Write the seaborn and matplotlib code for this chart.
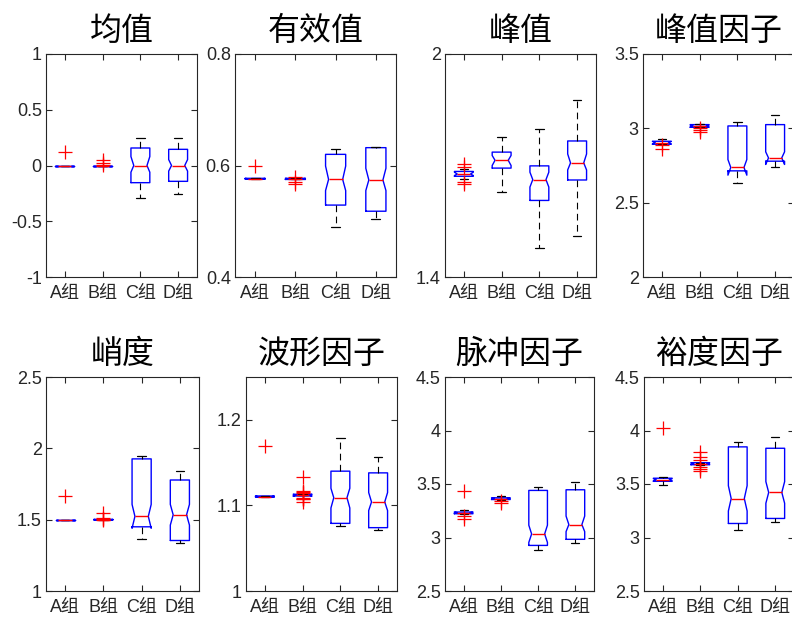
import matplotlib
matplotlib.use("Agg")
import matplotlib.pyplot as plt
import seaborn as sns

# ---- data -------------------------------------------------------------
groups = ["A组", "B组", "C组", "D组"]
titles = ["均值", "有效值", "峰值", "峰值因子", "峭度", "波形因子", "脉冲因子", "裕度因子"]

# box statistics per feature (rows) and group (columns)
whislo = [
    [0.0, 0.0, -0.287, -0.257],
    [0.576, 0.576, 0.489, 0.504],
    [1.664, 1.630, 1.478, 1.509],
    [2.893, 3.007, 2.629, 2.737],
    [1.495, 1.499, 1.361, 1.338],
    [1.110, 1.112, 1.076, 1.071],
    [3.215, 3.350, 2.879, 2.945],
    [3.490, 3.680, 3.071, 3.144],
]
q1 = [
    [0.0, 0.0, -0.154, -0.142],
    [0.576, 0.575, 0.529, 0.518],
    [1.671, 1.693, 1.606, 1.661],
    [2.893, 3.007, 2.714, 2.779],
    [1.495, 1.499, 1.450, 1.354],
    [1.110, 1.111, 1.079, 1.074],
    [3.222, 3.355, 2.926, 2.983],
    [3.525, 3.680, 3.131, 3.178],
]
med = [
    [0.0, 0.0, 0.0, 0.0],
    [0.576, 0.576, 0.575, 0.574],
    [1.677, 1.714, 1.662, 1.707],
    [2.904, 3.016, 2.737, 2.801],
    [1.495, 1.499, 1.523, 1.534],
    [1.110, 1.112, 1.109, 1.104],
    [3.232, 3.364, 3.033, 3.121],
    [3.541, 3.689, 3.364, 3.421],
]
q3 = [
    [0.0, 0.0, 0.157, 0.145],
    [0.577, 0.577, 0.620, 0.632],
    [1.684, 1.736, 1.699, 1.766],
    [2.913, 3.025, 3.016, 3.025],
    [1.495, 1.502, 1.926, 1.778],
    [1.111, 1.113, 1.140, 1.138],
    [3.238, 3.371, 3.440, 3.446],
    [3.554, 3.699, 3.847, 3.834],
]
whishi = [
    [0.0, 0.0, 0.245, 0.245],
    [0.577, 0.577, 0.630, 0.633],
    [1.691, 1.776, 1.798, 1.876],
    [2.931, 3.027, 3.042, 3.087],
    [1.495, 1.502, 1.949, 1.844],
    [1.111, 1.113, 1.179, 1.156],
    [3.257, 3.386, 3.475, 3.522],
    [3.569, 3.699, 3.894, 3.938],
]
ci_lo = [
    [0.0, 0.0, -0.060, -0.050],
    [0.576, 0.575, 0.555, 0.555],
    [1.673, 1.700, 1.642, 1.688],
    [2.895, 3.010, 2.685, 2.757],
    [1.495, 1.499, 1.440, 1.462],
    [1.110, 1.111, 1.097, 1.094],
    [3.225, 3.358, 2.954, 3.055],
    [3.530, 3.682, 3.248, 3.320],
]
ci_hi = [
    [0.0, 0.0, 0.080, 0.053],
    [0.577, 0.577, 0.599, 0.595],
    [1.682, 1.727, 1.682, 1.731],
    [2.912, 3.022, 2.790, 2.842],
    [1.495, 1.502, 1.607, 1.607],
    [1.111, 1.113, 1.120, 1.115],
    [3.236, 3.369, 3.115, 3.200],
    [3.550, 3.696, 3.484, 3.522],
]
outliers = [
    [[0.12], [0.045, 0.02, 0.005], [], []],
    [[0.600], [0.579, 0.571, 0.567], [], []],
    [[1.705, 1.697, 1.656, 1.650], [], [], []],
    [[2.89, 2.86], [3.005, 2.99, 2.975], [], []],
    [[1.668], [1.55, 1.51, 1.505, 1.50], [], []],
    [[1.169], [1.133, 1.117, 1.116, 1.115, 1.109, 1.108, 1.107, 1.104], [], []],
    [[3.43, 3.20, 3.17], [3.34, 3.32], [], []],
    [[4.02], [3.80, 3.75, 3.72, 3.66, 3.64, 3.62], [], []],
]

ylims = [(-1, 1), (0.4, 0.8), (1.4, 2), (2, 3.5), (1, 2.5), (1, 1.25), (2.5, 4.5), (2.5, 4.5)]
yticks = [
    [-1, -0.5, 0, 0.5, 1],
    [0.4, 0.6, 0.8],
    [1.4, 2],
    [2, 2.5, 3, 3.5],
    [1, 1.5, 2, 2.5],
    [1, 1.1, 1.2],
    [2.5, 3, 3.5, 4, 4.5],
    [2.5, 3, 3.5, 4, 4.5],
]

# ---- layout (pixel boxes: left, right, top, bottom) -------------------
W, H = 792, 622
boxes_px = [
    (46, 197, 54, 277), (235, 396, 54, 277), (445, 596, 54, 277), (643, 794, 54, 277),
    (46, 199, 377, 591), (246, 397, 377, 591), (445, 594, 377, 591), (644, 794, 377, 591),
]

sns.set_style("ticks")
plt.rcParams["font.family"] = ["Liberation Sans", "Noto Sans CJK SC", "DejaVu Sans"]
plt.rcParams["axes.unicode_minus"] = False

dark = "#262626"
box_w = 0.5
notch_half = box_w * 0.35

fig = plt.figure(figsize=(W / 100, H / 100), dpi=100)
fig.patch.set_facecolor("white")

for k in range(8):
    l, r, t, b = boxes_px[k]
    ax = fig.add_axes([l / W, (H - b) / H, (r - l) / W, (b - t) / H])
    stats = []
    for g in range(4):
        stats.append(dict(
            whislo=whislo[k][g], q1=q1[k][g], med=med[k][g], q3=q3[k][g],
            whishi=whishi[k][g], cilo=ci_lo[k][g], cihi=ci_hi[k][g],
            fliers=outliers[k][g], label=groups[g],
        ))
    art = ax.bxp(
        stats, positions=[1, 2, 3, 4], widths=box_w, capwidths=0.22,
        shownotches=True, showfliers=True, patch_artist=False,
        boxprops=dict(color="blue", linewidth=1.0),
        medianprops=dict(color="red", linewidth=1.0),
        whiskerprops=dict(color="black", linewidth=0.8, linestyle=(0, (6, 4))),
        capprops=dict(color="black", linewidth=0.9),
        flierprops=dict(marker="+", markeredgecolor="red", markersize=10.5,
                        markeredgewidth=0.9, linestyle="none"),
    )
    # narrower notch waist
    for g, (bx, md) in enumerate(zip(art["boxes"], art["medians"])):
        pos = g + 1
        xs = list(bx.get_xdata())
        xs[3] = pos + notch_half
        xs[8] = pos - notch_half
        bx.set_xdata(xs)
        md.set_xdata([pos - notch_half, pos + notch_half])
        md.set_zorder(bx.get_zorder() + 0.5)

    ax.set_xlim(0.5, 4.5)
    ax.set_ylim(*ylims[k])
    ax.set_xticks([1, 2, 3, 4])
    ax.set_xticklabels(groups)
    ax.set_yticks(yticks[k])
    ax.set_yticklabels([f"{v:g}" for v in yticks[k]])
    ax.tick_params(direction="in", length=4, width=0.8, colors=dark,
                   labelsize=13, top=True, right=True)
    ax.tick_params(axis="x", pad=6)
    ax.tick_params(axis="y", pad=3)
    for s in ax.spines.values():
        s.set_color(dark)
        s.set_linewidth(0.8)
        s.set_visible(True)
    ax.set_facecolor("white")
    ax.set_title(titles[k], fontsize=23, color="black", pad=10,
                 family=["Noto Sans CJK SC", "DejaVu Sans"])

fig.savefig("out.png", dpi=100, facecolor="white")
